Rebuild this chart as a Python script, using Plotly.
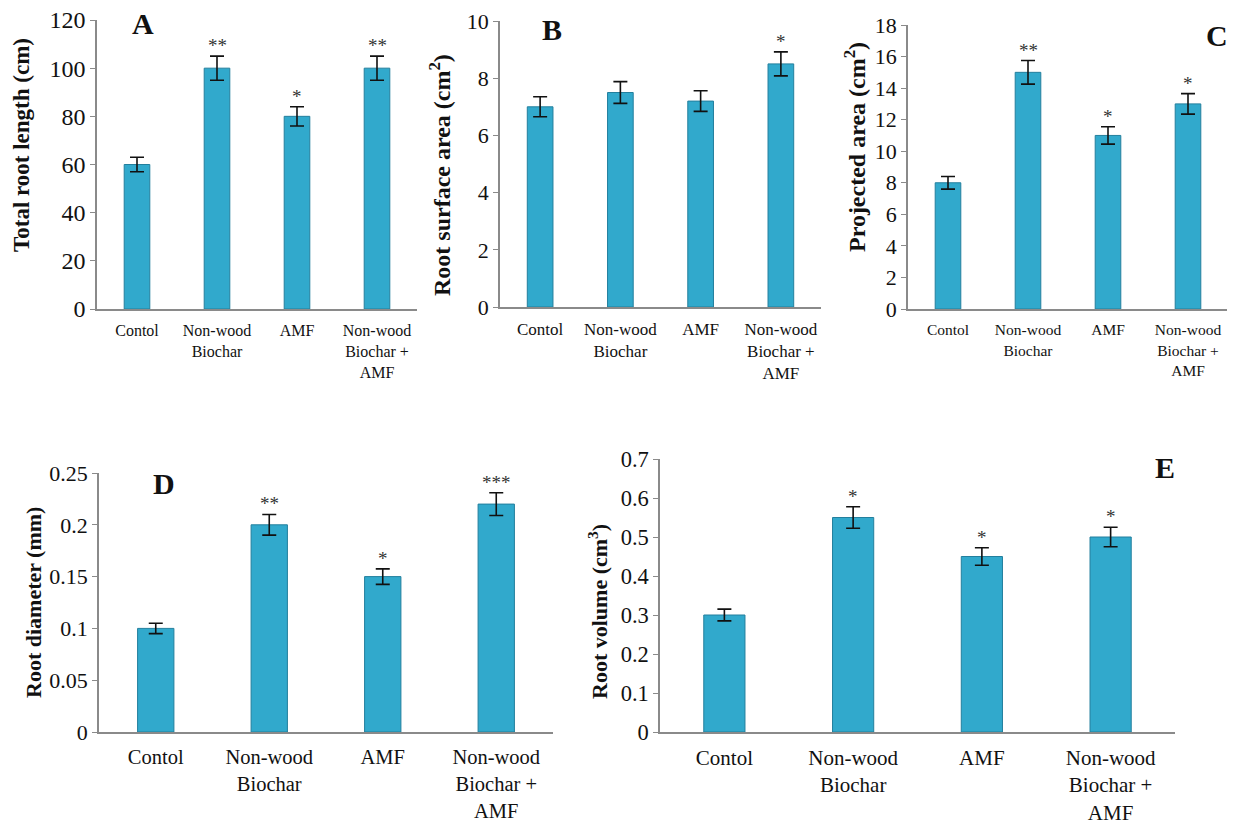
import plotly.graph_objects as go

categories = ["Contol", "Non-wood<br>Biochar", "AMF", "Non-wood<br>Biochar +<br>AMF"]

root_length = [60, 100, 80, 100]
root_length_err = [3, 5, 4, 5]
root_length_sig = ["", "**", "*", "**"]

surface_area = [7.0, 7.5, 7.2, 8.5]
surface_area_err = [0.35, 0.38, 0.36, 0.42]
surface_area_sig = ["", "", "", "*"]

projected_area = [8, 15, 11, 13]
projected_area_err = [0.4, 0.75, 0.55, 0.65]
projected_area_sig = ["", "**", "*", "*"]

diameter = [0.10, 0.20, 0.15, 0.22]
diameter_err = [0.005, 0.010, 0.0075, 0.011]
diameter_sig = ["", "**", "*", "***"]

volume = [0.30, 0.55, 0.45, 0.50]
volume_err = [0.015, 0.0275, 0.0225, 0.025]
volume_sig = ["", "*", "*", "*"]

# page body has an 8px margin; the figure is sized to fit inside the window
OFF = 8
W, H = 1235 - OFF, 830 - OFF
FONT = "Liberation Serif, Times New Roman, serif"
BAR = "#31a9cc"
BAR_LINE = "#237f9d"
AXIS = "#8a8a8a"


def fx(px):
    return (px - OFF) / W


def fy(py):
    return 1 - (py - OFF) / H


panels = [
    dict(vals=root_length, err=root_length_err, sig=root_length_sig, rng=[0, 120], dt=20,
         px=[97, 417], py=[20, 309], title="Total root length (cm)", tx=22, ty=145,
         letter="A", lx=143, ly=23, tickfs=24, catfs=16, bw=0.32, tfs=23),
    dict(vals=surface_area, err=surface_area_err, sig=surface_area_sig, rng=[0, 10], dt=2,
         px=[500, 821], py=[21, 307], title="Root surface area (cm<sup>2</sup>)", tx=440, ty=175,
         letter="B", lx=552, ly=30, tickfs=22, catfs=17, bw=0.32, tfs=24),
    dict(vals=projected_area, err=projected_area_err, sig=projected_area_sig, rng=[0, 18], dt=2,
         px=[908, 1228], py=[25, 309], title="Projected area (cm<sup>2</sup>)", tx=855, ty=147,
         letter="C", lx=1217, ly=35, tickfs=22, catfs=15.5, bw=0.32, tfs=24),
    dict(vals=diameter, err=diameter_err, sig=diameter_sig, rng=[0, 0.25], dt=0.05,
         px=[99, 553], py=[473, 732], title="Root diameter (mm)", tx=33, ty=603,
         letter="D", lx=164, ly=483, tickfs=22, catfs=20.5, bw=0.32, tfs=22),
    dict(vals=volume, err=volume_err, sig=volume_sig, rng=[0, 0.7], dt=0.1,
         px=[660, 1175], py=[459, 732], title="Root volume (cm<sup>3</sup>)", tx=598, ty=612,
         letter="E", lx=1165, ly=467, tickfs=22.5, catfs=21, bw=0.32, tfs=22),
]

fig = go.Figure()
annotations = []
layout = {}
for i, p in enumerate(panels, start=1):
    sfx = "" if i == 1 else str(i)
    xa, ya = "x" + sfx, "y" + sfx
    fig.add_trace(go.Bar(
        x=categories, y=p["vals"], xaxis=xa, yaxis=ya, width=p["bw"],
        marker=dict(color=BAR, line=dict(color=BAR_LINE, width=1)),
        error_y=dict(type="data", array=p["err"], visible=True, color="#111111",
                     thickness=1.6, width=7),
        showlegend=False, hoverinfo="y",
    ))
    layout["xaxis" + sfx] = dict(
        domain=[fx(p["px"][0]), fx(p["px"][1])], anchor=ya, automargin=False,
        showline=True, linecolor=AXIS, linewidth=1.5, ticks="",
        showgrid=False, tickfont=dict(family=FONT, size=p["catfs"], color="#111"),
        ticklabelstandoff=6, ticklabeloverflow="allow", fixedrange=True,
    )
    layout["yaxis" + sfx] = dict(
        domain=[fy(p["py"][1]), fy(p["py"][0])], anchor=xa, automargin=False,
        range=p["rng"], dtick=p["dt"], tick0=0,
        showline=True, linecolor=AXIS, linewidth=1.5, ticks="outside",
        ticklen=5, tickcolor=AXIS, showgrid=False, zeroline=False,
        ticklabeloverflow="allow",
        tickfont=dict(family=FONT, size=p["tickfs"], color="#111"), fixedrange=True,
    )
    for c, v, e, s in zip(categories, p["vals"], p["err"], p["sig"]):
        if s:
            annotations.append(dict(
                x=c, y=v + e, xref=xa, yref=ya, text=s, showarrow=False,
                xanchor="center", yanchor="bottom", yshift=-2,
                font=dict(family=FONT, size=19, color="#333"),
            ))
    annotations.append(dict(
        x=fx(p["tx"]), y=fy(p["ty"]), xref="paper", yref="paper",
        text="<b>" + p["title"] + "</b>", textangle=-90, showarrow=False,
        xanchor="center", yanchor="middle",
        font=dict(family=FONT, size=p["tfs"], color="#111"),
    ))
    annotations.append(dict(
        x=fx(p["lx"]), y=fy(p["ly"]), xref="paper", yref="paper",
        text="<b>" + p["letter"] + "</b>", showarrow=False,
        xanchor="center", yanchor="middle",
        font=dict(family=FONT, size=30, color="#111"),
    ))

fig.update_layout(
    template="none",
    width=W, height=H, margin=dict(l=0, r=0, t=0, b=0, autoexpand=False),
    paper_bgcolor="white", plot_bgcolor="white",
    annotations=annotations, **layout,
)
fig.write_html("out.html")
